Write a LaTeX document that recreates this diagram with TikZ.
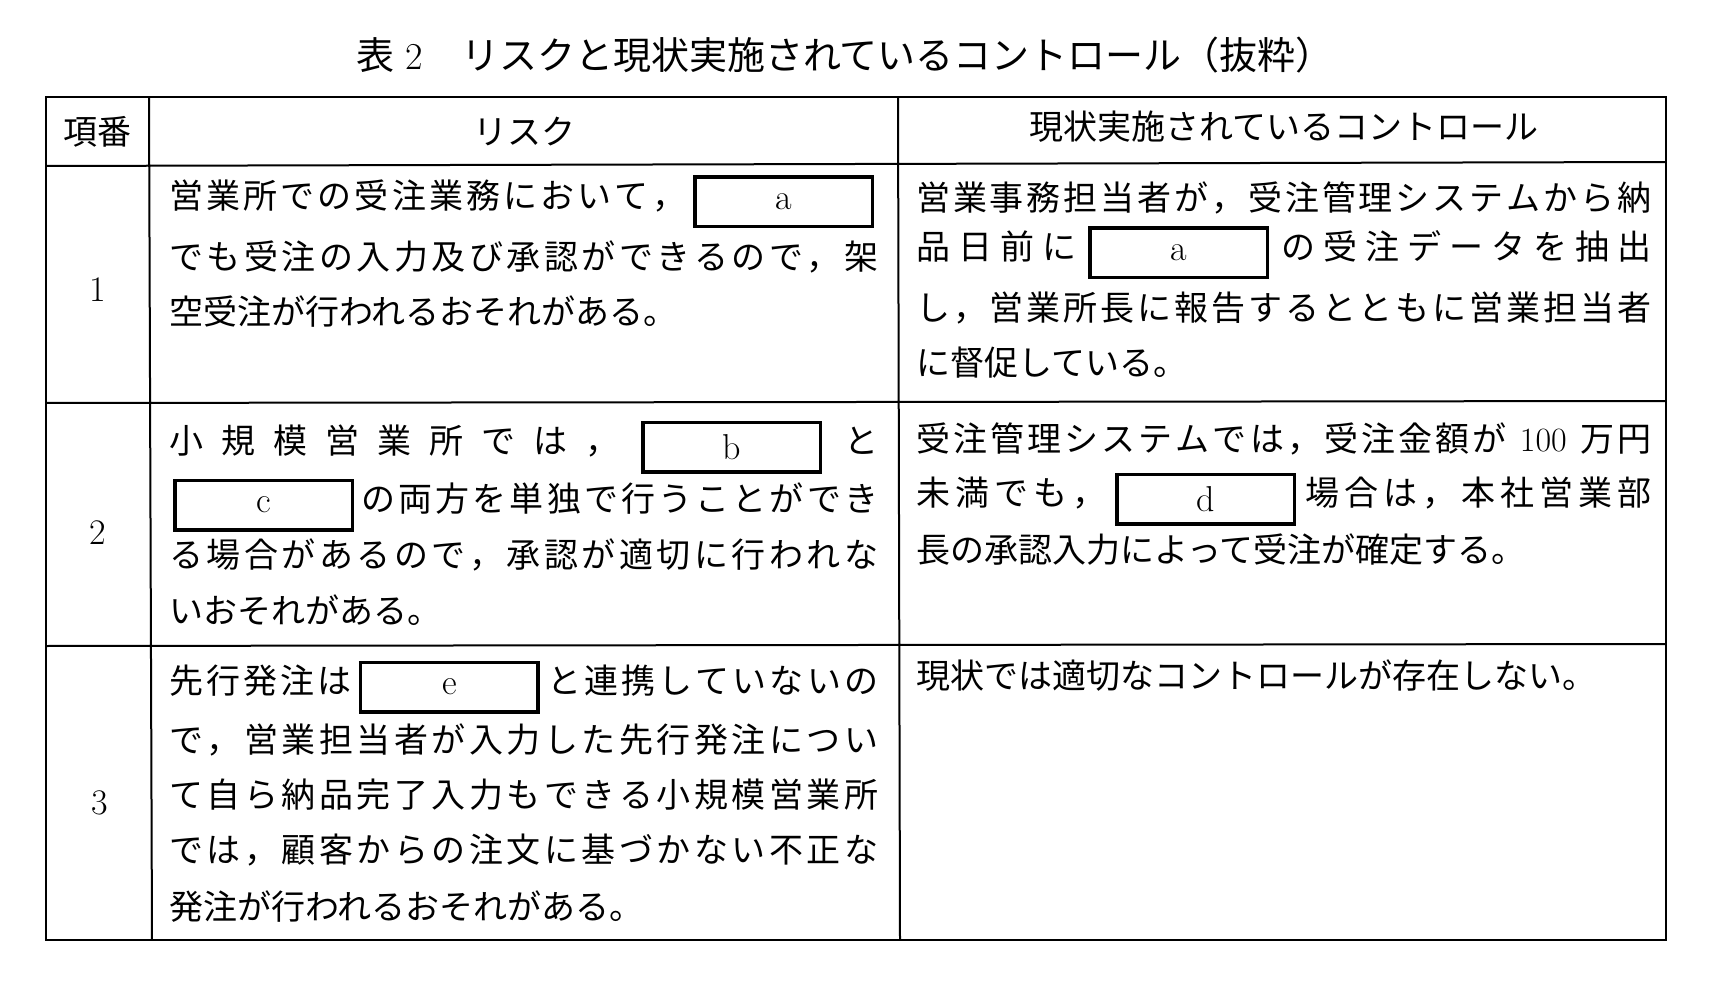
\documentclass[tikz,border=0pt]{standalone}
\usepackage{fontspec}
\newfontfamily\jp{Noto Sans CJK JP}
\ExplSyntaxOn
\NewDocumentCommand\jl{mm}{\hbox to #1{\tl_map_inline:nn{#2}{{##1}\hfil}\unskip}}
\ExplSyntaxOff
\newcommand\blank[1]{\kern4pt{\fboxrule=3.5pt\fboxsep=0pt\fbox{\parbox[c][46pt]{174pt}{\centering\rmfamily\fontsize{36}{40}\selectfont #1}}}\kern4pt}
\begin{document}
\begin{tikzpicture}[x=1pt,y=-1pt,
 t/.style={anchor=west,inner sep=0pt,font=\jp\fontsize{34}{40}\selectfont},
 c/.style={inner sep=0pt,font=\jp\fontsize{34}{40}\selectfont},
 n/.style={inner sep=0pt,font=\rmfamily\fontsize{36}{40}\selectfont}]
\useasboundingbox (0,0) rectangle (1722,984);
\draw[line width=2.2pt] (46,97) rectangle (1666,940);
\draw[line width=2pt] (46,166)--(1666,162) (46,403)--(1666,401) (46,646)--(1666,644)
 (149,97)--(152,940) (898,97)--(900,940);
\node[c,font=\jp\fontsize{38}{44}\selectfont] (title) at (845,55) {表{\rmfamily\ 2}\quad リスクと現状実施されているコントロール（抜粋）};
\node[c] (h1) at (97,132) {項番};
\node[c] (h2) at (524,132) {リスク};
\node[c] (h3) at (1284,127) {現状実施されているコントロール};
\node[n] (n1) at (98,290) {1};
\node[n] (n2) at (98,533) {2};
\node[n] (n3) at (100,803) {3};
% row1
\node[t] (a1) at (169,202) {\jl{709pt}{営業所での受注業務において，{\blank{a}}}};
\node[t] (a2) at (169,257) {\jl{709pt}{でも受注の入力及び承認ができるので，架}};
\node[t] (a3) at (169,312) {空受注が行われるおそれがある。};
\node[t] (b1) at (916,198) {\jl{735pt}{営業事務担当者が，受注管理システムから納}};
\node[t] (b2) at (916,253) {\jl{735pt}{品日前に{\blank{a}}の受注データを抽出}};
\node[t] (b3) at (916,308) {\jl{735pt}{し，営業所長に報告するとともに営業担当者}};
\node[t] (b4) at (916,363) {に督促している。};
% row2
\node[t] (c1) at (169,447) {\jl{709pt}{小規模営業所では，{\blank{b}}と}};
\node[t] (c2) at (169,505) {\jl{709pt}{{\blank{c}}の両方を単独で行うことができ}};
\node[t] (c3) at (169,555) {\jl{709pt}{る場合があるので，承認が適切に行われな}};
\node[t] (c4) at (169,610) {いおそれがある。};
\node[t] (d1) at (916,439) {\jl{735pt}{受注管理システムでは，受注金額が{\rmfamily\ 100\ }万円}};
\node[t] (d2) at (916,499) {\jl{735pt}{未満でも，{\blank{d}}場合は，本社営業部}};
\node[t] (d3) at (916,550) {長の承認入力によって受注が確定する。};
% row3
\node[t] (e1) at (169,687) {\jl{709pt}{先行発注は{\blank{e}}と連携していないの}};
\node[t] (e2) at (169,740) {\jl{709pt}{で，営業担当者が入力した先行発注につい}};
\node[t] (e3) at (169,795) {\jl{709pt}{て自ら納品完了入力もできる小規模営業所}};
\node[t] (e4) at (169,850) {\jl{709pt}{では，顧客からの注文に基づかない不正な}};
\node[t] (e5) at (169,907) {発注が行われるおそれがある。};
\node[t] (f1) at (916,676) {現状では適切なコントロールが存在しない。};
\end{tikzpicture}
\end{document}
